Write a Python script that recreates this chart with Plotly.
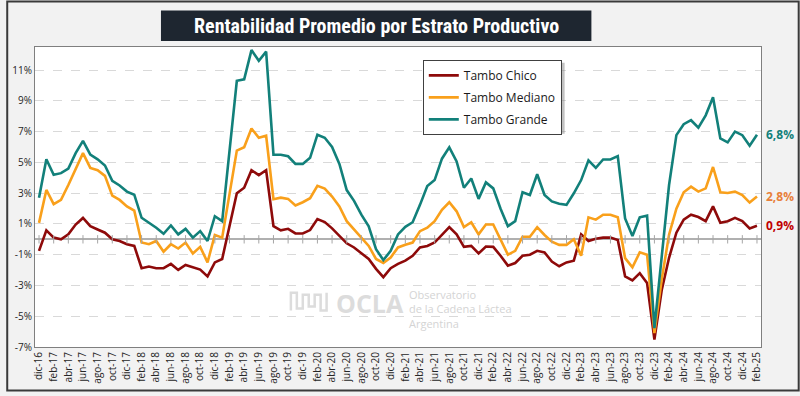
import plotly.graph_objects as go

months = ["ene", "feb", "mar", "abr", "may", "jun", "jul", "ago", "sep", "oct", "nov", "dic"]
# Monthly categories dic-16 .. feb-25
categories = ["dic-16"] + [f"{m}-{y:02d}" for y in range(17, 25) for m in months] + ["ene-25", "feb-25"]

tambo_chico = [
    -0.75, 0.58, 0.11, 0.0, 0.32, 0.96, 1.39, 0.85, 0.64, 0.43, 0.0, -0.11, -0.32, -0.43, -1.88, -1.77, -1.88, -1.88, -1.6, -1.99,
    -1.67, -1.82, -1.97, -2.41, -1.5, -1.28, 0.75, 2.99, 3.35, 4.49, 4.17, 4.49, 0.85, 0.58, 0.68, 0.38, 0.38, 0.6, 1.32, 1.12,
    0.71, 0.21, -0.26, -0.53, -0.92, -1.28, -1.92, -2.46, -1.88, -1.6, -1.39, -1.07, -0.53, -0.43, -0.21, 0.32, 0.79, 0.32, -0.49, -0.43,
    -0.92, -0.47, -0.49, -1.07, -1.71, -1.54, -1.07, -1.0, -0.75, -0.85, -1.45, -1.75, -1.5, -1.39, 0.32, -0.11, 0.04, 0.11, 0.11, -0.04,
    -2.41, -2.67, -2.2, -2.84, -6.52, -3.3, -1.2, 0.43, 1.28, 1.6, 1.45, 1.18, 2.14, 1.07, 1.18, 1.39, 1.18, 0.71, 0.88,
]
tambo_mediano = [
    1.07, 3.21, 2.29, 2.56, 3.53, 4.59, 5.6, 4.64, 4.49, 4.12, 2.84, 2.56, 2.14, 1.86, -0.21, -0.32, -0.11, -0.81, -0.32, -0.6,
    -0.21, -0.92, -0.49, -1.5, 0.28, 0.11, 2.9, 5.77, 5.98, 7.2, 6.6, 6.73, 2.61, 2.71, 2.63, 2.2, 2.41, 2.67, 3.48, 3.3,
    2.78, 2.14, 1.18, 0.64, 0.11, -0.43, -1.28, -1.54, -1.18, -0.53, -0.36, -0.21, 0.53, 0.75, 1.18, 1.92, 2.41, 1.82, 0.79, 1.11,
    0.32, 0.96, 0.96, 0.0, -1.0, -0.75, 0.17, 0.17, 0.79, 0.28, -0.15, -0.36, -0.36, 0.0, -1.07, 1.43, 1.28, 1.6, 1.6, 1.43,
    -1.22, -1.82, -0.85, -1.0, -6.1, -2.6, 0.3, 1.99, 3.06, 3.42, 3.1, 3.31, 4.7, 3.06, 3.01, 3.1, 2.88, 2.39, 2.78,
]
tambo_grande = [
    2.7, 5.2, 4.2, 4.3, 4.6, 5.6, 6.4, 5.5, 5.2, 4.8, 3.8, 3.5, 3.1, 2.9, 1.4, 1.1, 0.75, 0.36, 0.9, 0.32,
    0.68, 0.11, 0.53, -0.11, 1.5, 1.18, 5.7, 10.3, 10.4, 12.3, 11.6, 12.2, 5.5, 5.5, 5.4, 4.9, 4.9, 5.3, 6.8, 6.6,
    6.0, 4.9, 3.2, 2.5, 1.6, 0.85, -0.64, -1.35, -0.75, 0.32, 0.81, 1.11, 2.24, 3.46, 3.85, 5.24, 5.98, 5.06, 3.35, 3.95,
    2.63, 3.7, 3.31, 1.99, 0.85, 1.18, 3.06, 2.88, 4.23, 2.88, 2.46, 2.31, 2.24, 2.99, 3.85, 5.13, 4.64, 5.19, 5.19, 5.41,
    1.35, 0.21, 1.43, 1.54, -5.77, -1.18, 3.53, 6.77, 7.48, 7.74, 7.26, 8.06, 9.23, 6.56, 6.3, 7.0, 6.77, 6.09, 6.8,
]

series = [
    ("Tambo Chico", tambo_chico, "#8e0a0a", "#c00000"),
    ("Tambo Mediano", tambo_mediano, "#f9a01b", "#e8803a"),
    ("Tambo Grande", tambo_grande, "#12807a", "#12807a"),
]

y_ticks = [-7, -5, -3, -1, 1, 3, 5, 7, 9, 11]
y_ticktext = [f"{v}%" for v in y_ticks]
x_ticks = categories[::2]

# plot-area geometry in pixels (for decorations)
L, R, T, B = 29, 761, 47, 351
W, H = R - L, B - T
def px(x): return (x - L) / W
def py(y): return (B - y) / H

fig = go.Figure()
for i, (name, vals, color, _) in enumerate(series):
    fig.add_trace(go.Scatter(x=categories, y=vals, name=name, mode="lines", legendgroup=f"g{i}",
                             line=dict(color=color, width=2.6), hoverinfo="skip"))

# tick marks on the zero axis line
fig.add_trace(go.Scatter(x=x_ticks, y=[0] * len(x_ticks), mode="markers", showlegend=False,
                         hoverinfo="skip",
                         marker=dict(symbol="line-ns", size=6, line=dict(color="#a6a6a6", width=1))))

annotations = []
for name, vals, _, lab_color in series:
    annotations.append(dict(x=categories[-1], y=vals[-1], xref="x", yref="y",
                            text=f"<b>{vals[-1]:.1f}%</b>".replace(".", ","),
                            showarrow=False, xanchor="left", yanchor="middle", xshift=7,
                            font=dict(family="Open Sans", size=12, color=lab_color)))

# title
annotations.append(dict(x=px(373), y=py(25.5), xref="paper", yref="paper", showarrow=False,
                        xanchor="center", yanchor="middle",
                        text="<b>Rentabilidad Promedio por Estrato Productivo</b>",
                        font=dict(family="Liberation Sans Narrow, Roboto Condensed, Arial Narrow, sans-serif",
                                  size=20, color="white")))
# watermark
annotations.append(dict(x=px(330), y=py(306), xref="paper", yref="paper", showarrow=False,
                        xanchor="left", yanchor="middle", text="<b>OCLA</b>",
                        font=dict(family="Open Sans", size=25, color="#dcdcdc")))
annotations.append(dict(x=px(404), y=py(312), xref="paper", yref="paper", showarrow=False,
                        xanchor="left", yanchor="middle", align="left",
                        text="Observatorio<br>de la Cadena Láctea<br>Argentina",
                        font=dict(family="Open Sans", size=11, color="#d4d4d4")))

shapes = [
    dict(type="rect", xref="paper", yref="paper", x0=px(1), x1=px(799), y0=py(1), y1=py(395),
         line=dict(color="#3a3a3a", width=2), fillcolor="rgba(0,0,0,0)", layer="below"),
    dict(type="rect", xref="paper", yref="paper", x0=px(156), x1=px(590), y0=py(10), y1=py(41),
         line=dict(width=0), fillcolor="#1e2630", layer="above"),
    # legend shadow
    dict(type="rect", xref="paper", yref="paper", x0=px(423), x1=px(563), y0=py(63), y1=py(135),
         line=dict(width=0), fillcolor="rgba(120,120,120,0.45)", layer="above"),
    # logo wave
    dict(type="path", xref="paper", yref="paper",
         path=" ".join([
             f"M {px(287)} {py(314)}",
             f"L {px(287)} {py(296)} L {px(293)} {py(296)} L {px(293)} {py(312)}",
             f"L {px(299)} {py(312)} L {px(299)} {py(298)} L {px(305)} {py(298)}",
             f"L {px(305)} {py(310)} L {px(311)} {py(310)} L {px(311)} {py(298)}",
             f"L {px(317)} {py(298)} L {px(317)} {py(314)} L {px(323)} {py(314)} L {px(323)} {py(296)}",
         ]),
         line=dict(color="#dcdcdc", width=2.5), layer="below"),
]

fig.update_layout(
    width=800, height=396,
    margin=dict(l=L, r=800 - R, t=T, b=396 - B),
    paper_bgcolor="#f2f2f2", plot_bgcolor="white",
    font=dict(family="Open Sans", size=10, color="#262626"),
    showlegend=True,
    legend=dict(x=px(420), y=py(60), xanchor="left", yanchor="top",
                bgcolor="white", bordercolor="#404040", borderwidth=1,
                font=dict(family="Open Sans", size=12, color="#1a1a1a"),
                tracegroupgap=3),
    annotations=annotations, shapes=shapes,
)
fig.update_xaxes(type="category", range=[-0.55, len(categories) - 0.45],
                 tickvals=x_ticks, ticktext=x_ticks, tickangle=-90,
                 showgrid=False, showline=True, linecolor="#7f7f7f", linewidth=1, mirror=True,
                 ticks="", tickfont=dict(size=10))
fig.update_yaxes(range=[-7, 12.5], tickvals=y_ticks, ticktext=y_ticktext,
                 showgrid=True, gridcolor="#d9d9d9", griddash="dash", gridwidth=1,
                 zeroline=True, zerolinecolor="#b0b0b0", zerolinewidth=1.5,
                 showline=True, linecolor="#7f7f7f", linewidth=1, mirror=True,
                 ticks="", tickfont=dict(size=10))

fig.write_html("out.html", config={"displayModeBar": False},
               post_script="document.body.style.margin='0px';document.body.style.overflow='hidden';")
